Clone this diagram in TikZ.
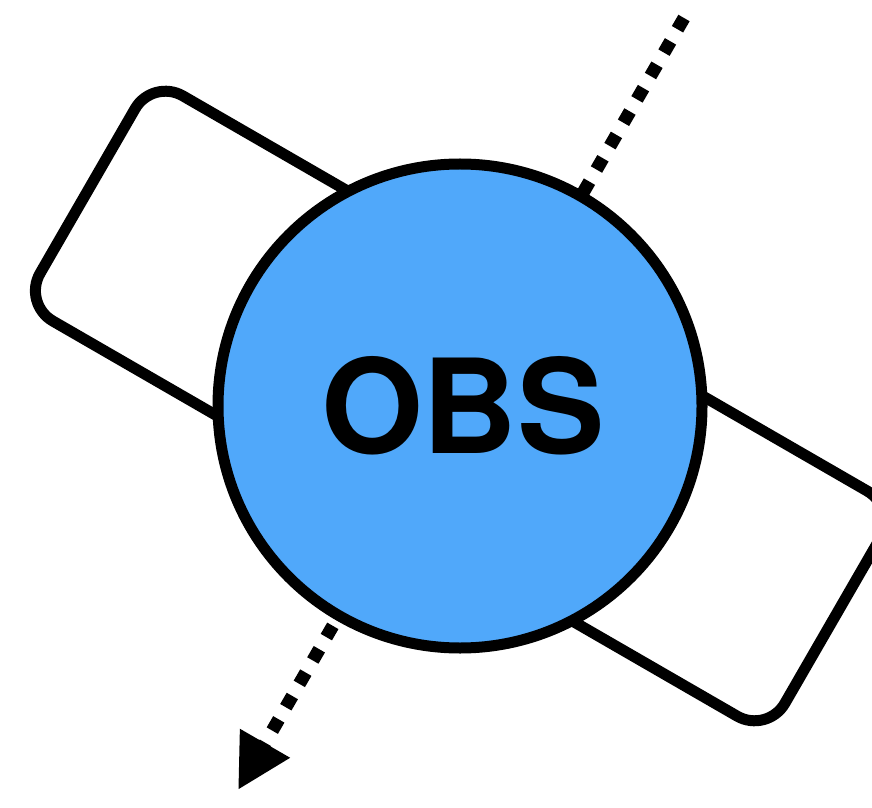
\documentclass[tikz,border=0pt]{standalone}
\usepackage{fontspec}
\newfontfamily\hvfont{TeX Gyre Heros}
\usetikzlibrary{arrows.meta}
\definecolor{obsblue}{HTML}{50A8FA}
\tikzset{
  heavy/.style={line width=11pt, draw=black},
  padbox/.style={heavy, rectangle, rotate=-30, minimum width=860pt, minimum height=260pt, rounded corners=35pt, inner sep=0pt, fill=white},
  obsnode/.style={heavy, circle, minimum size=484pt, inner sep=0pt, fill=obsblue},
  dotline/.style={line width=13pt, dash pattern=on 13pt off 14pt, -{Triangle[length=54pt,width=54pt]}},
}
\begin{document}
\begin{tikzpicture}[x=1pt,y=1pt]
\useasboundingbox (0,0) rectangle (872,807);
\coordinate (c) at (460,401);
\coordinate (top) at (684,789);
\coordinate (tip) at (238,17);
\node[padbox] (pad) at (c) {};
\draw[dotline] (top) -- (tip);
\node[obsnode] (obs) at (c) {};
\node[anchor=base, inner sep=0pt, font=\hvfont\bfseries\fontsize{131}{131}\selectfont] (lbl) at (463,354) {OBS};
\end{tikzpicture}
\end{document}
